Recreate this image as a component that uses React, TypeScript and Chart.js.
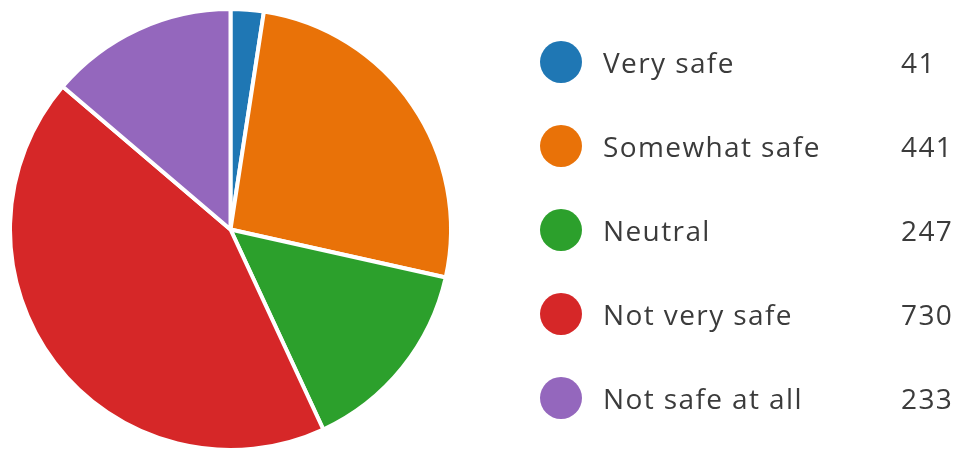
import React, { useEffect, useRef } from "react";
import { Chart, registerables } from "chart.js";

Chart.register(...registerables);

const categories = ["Very safe", "Somewhat safe", "Neutral", "Not very safe", "Not safe at all"];
const counts = [41, 441, 247, 730, 233];
const colors = ["#1f77b4", "#e97208", "#2ca02c", "#d62728", "#9467bd"];

export default function App() {
  const ref = useRef<HTMLCanvasElement | null>(null);

  useEffect(() => {
    if (!ref.current) return;
    const chart = new Chart(ref.current, {
      type: "pie",
      data: {
        labels: categories,
        datasets: [
          {
            data: counts,
            backgroundColor: colors,
            borderColor: "#ffffff",
            borderWidth: 4,
          },
        ],
      },
      options: {
        responsive: false,
        animation: false,
        layout: { padding: { top: 7, left: 8, right: 8, bottom: 0 } },
        plugins: {
          legend: { display: false },
          tooltip: { enabled: false },
        },
      },
    });
    return () => chart.destroy();
  }, []);

  const rowTops = [62, 146, 230, 314, 398];
  const textStyle: React.CSSProperties = {
    position: "absolute",
    top: 0,
    height: 60,
    lineHeight: "60px",
    fontSize: 28,
    letterSpacing: "1.4px",
    color: "#3b3b3b",
    whiteSpace: "nowrap",
  };

  return (
    <div
      style={{
        position: "fixed",
        left: 0,
        top: 0,
        width: 961,
        height: 452,
        background: "#ffffff",
        overflow: "hidden",
        fontFamily: "'Open Sans', 'Noto Sans', sans-serif",
      }}
    >
      <canvas
        ref={ref}
        width={461}
        height={452}
        style={{ position: "absolute", left: 0, top: 0, width: 461, height: 452 }}
      />
      {categories.map((c, i) => (
        <div
          key={c}
          style={{
            position: "absolute",
            left: 0,
            top: rowTops[i] - 30,
            height: 60,
            width: 961,
          }}
        >
          <div
            style={{
              position: "absolute",
              left: 540,
              top: 9,
              width: 42,
              height: 42,
              borderRadius: "50%",
              background: colors[i],
            }}
          />
          <div style={{ ...textStyle, left: 603 }}>{c}</div>
          <div style={{ ...textStyle, left: 901 }}>{counts[i]}</div>
        </div>
      ))}
    </div>
  );
}
